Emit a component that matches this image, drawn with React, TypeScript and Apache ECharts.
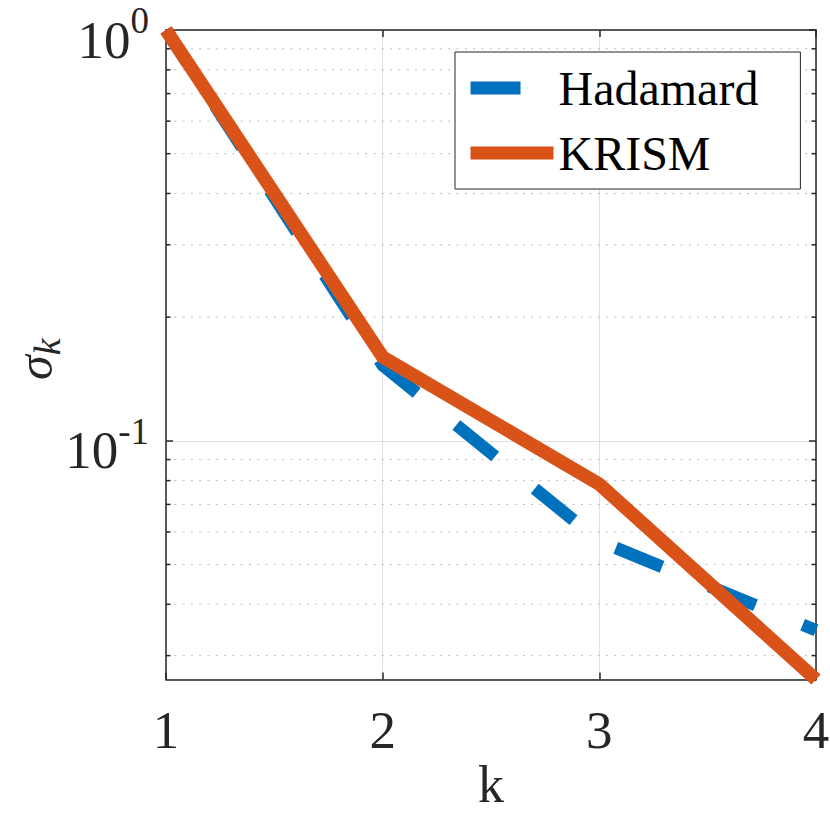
import React, { useEffect, useRef } from 'react';
import * as echarts from 'echarts';

// ---- data ----
const kValues = [1, 2, 3, 4];
const hadamardValues = [1.0, 0.1528, 0.057, 0.0346];
const krismValues = [1.0, 0.16, 0.0784, 0.02624];
const yRange = [0.02624, 1];
const xTickValues = [1, 2, 3, 4];
const minorGridValues = [0.03, 0.04, 0.05, 0.06, 0.07, 0.08, 0.09, 0.2, 0.3, 0.4, 0.5, 0.6, 0.7, 0.8, 0.9];
const seriesNames = ['Hadamard', 'KRISM'];
const xTitle = 'k';
const yTitleMain = 'σ';
const yTitleSub = 'k';

export default function App() {
  const ref = useRef<HTMLDivElement>(null);

  useEffect(() => {
    const chart = echarts.init(ref.current as HTMLDivElement, null, { renderer: 'svg' });
    const font = 'Liberation Serif';
    const axisColor = '#262626';
    const majorGrid = '#dfdfdf';
    const minorGrid = '#bcbcbc';
    const blue = '#0072BD';
    const orange = '#D95319';

    const logLabel = (v: number) => {
      const l = Math.log10(v);
      const e = Math.round(l);
      if (Math.abs(l - e) > 1e-6) return '';
      return '{b|10}{s|' + e + '}';
    };

    const axisLineStyle = { color: axisColor, width: 1.5 };

    const option: any = {
      animation: false,
      backgroundColor: '#ffffff',
      textStyle: { fontFamily: font },
      grid: { left: 166, top: 30, right: 14, bottom: 137.5, containLabel: false, outerBoundsMode: 'none' },
      legend: {
        show: true,
        orient: 'vertical',
        left: 455,
        top: 52,
        padding: [12, 42, 12, 9],
        itemGap: 17,
        itemWidth: 83,
        itemHeight: 14,
        backgroundColor: '#ffffff',
        borderColor: axisColor,
        borderWidth: 1,
        borderRadius: 0,
        textStyle: { fontSize: 48, fontFamily: font, color: '#000000', lineHeight: 48 },
        itemStyle: { color: 'rgba(0,0,0,0)', borderColor: 'rgba(0,0,0,0)', borderWidth: 0 },
        lineStyle: { width: 13 },
        data: [
          { name: seriesNames[0], lineStyle: { width: 13, dashOffset: 0 } },
          { name: seriesNames[1], lineStyle: { width: 13 } },
        ],
      },
      xAxis: [
        {
          type: 'value',
          min: xTickValues[0],
          max: xTickValues[xTickValues.length - 1],
          interval: 1,
          position: 'bottom',
          axisLine: { show: true, onZero: false, lineStyle: axisLineStyle },
          axisTick: { show: true, inside: true, length: 7, lineStyle: axisLineStyle },
          axisLabel: { margin: 24, fontSize: 53, lineHeight: 53, fontFamily: font, color: axisColor },
          splitLine: { show: true, lineStyle: { color: majorGrid, width: 1 } },
          name: xTitle,
          nameLocation: 'middle',
          nameGap: 84.5,
          nameMoveOverlap: false,
          nameTextStyle: { fontSize: 52, lineHeight: 40, fontFamily: font, color: axisColor },
        },
        {
          type: 'value',
          min: xTickValues[0],
          max: xTickValues[xTickValues.length - 1],
          interval: 1,
          position: 'top',
          axisLine: { show: true, onZero: false, lineStyle: axisLineStyle },
          axisTick: { show: true, inside: true, length: 7, lineStyle: axisLineStyle },
          axisLabel: { show: false },
          splitLine: { show: false },
        },
      ],
      yAxis: [
        {
          type: 'log',
          logBase: 10,
          min: yRange[0],
          max: yRange[1],
          position: 'left',
          axisLine: { show: true, onZero: false, lineStyle: axisLineStyle },
          axisTick: { show: true, inside: true, length: 7, lineStyle: axisLineStyle },
          axisLabel: {
            margin: 17,
            showMaxLabel: true,
            showMinLabel: false,
            formatter: logLabel,
            color: axisColor,
            rich: {
              b: { fontSize: 53, lineHeight: 28, padding: [19, 0, 0, 0], fontFamily: font, color: axisColor },
              s: { fontSize: 37, lineHeight: 28, padding: [0, 0, 19, 0], fontFamily: font, color: axisColor },
            },
          },
          splitLine: { show: true, lineStyle: { color: majorGrid, width: 1 } },
          name: '{s|' + yTitleMain + '}{k|' + yTitleSub + '}',
          nameLocation: 'middle',
          nameRotate: 90,
          nameGap: 117,
          nameMoveOverlap: false,
          nameTextStyle: {
            rich: {
              s: { fontSize: 50, fontStyle: 'italic', lineHeight: 16, padding: [0, 0, 12, 0], fontFamily: font, color: axisColor },
              k: { fontSize: 38, fontStyle: 'italic', lineHeight: 16, padding: [12, 9, 0, 0], fontFamily: font, color: axisColor },
            },
          },
        },
        {
          type: 'log',
          logBase: 10,
          min: yRange[0],
          max: yRange[1],
          position: 'right',
          axisLine: { show: true, onZero: false, lineStyle: axisLineStyle },
          axisTick: { show: true, inside: true, length: 7, lineStyle: axisLineStyle },
          axisLabel: { show: false },
          splitLine: { show: false },
        },
      ],
      series: [
        {
          type: 'custom',
          name: 'minor',
          xAxisIndex: 0,
          yAxisIndex: 0,
          silent: true,
          z: 1,
          clip: false,
          data: minorGridValues.map((v) => [xTickValues[0], v]),
          renderItem: (params: any, api: any) => {
            const v = api.value(1);
            const p1 = api.coord([xTickValues[0], v]);
            const p2 = api.coord([xTickValues[xTickValues.length - 1], v]);
            return {
              type: 'group',
              children: [
                {
                  type: 'line',
                  shape: { x1: p1[0], y1: p1[1], x2: p2[0], y2: p2[1] },
                  style: { stroke: minorGrid, lineWidth: 1, lineDash: [2, 6.3] },
                },
                {
                  type: 'line',
                  shape: { x1: p1[0], y1: p1[1], x2: p1[0] + 4.5, y2: p1[1] },
                  style: { stroke: axisColor, lineWidth: 1.5 },
                },
                {
                  type: 'line',
                  shape: { x1: p2[0], y1: p2[1], x2: p2[0] - 4.5, y2: p2[1] },
                  style: { stroke: axisColor, lineWidth: 1.5 },
                },
              ],
            };
          },
        },
        {
          type: 'line',
          name: seriesNames[0],
          data: kValues.map((k, i) => [k, hadamardValues[i]]),
          symbol: 'none',
          clip: false,
          z: 3,
          itemStyle: { color: blue },
          lineStyle: { color: blue, width: 12.5, type: [50, 51], dashOffset: 11, join: 'miter', cap: 'butt' },
        },
        {
          type: 'line',
          name: seriesNames[1],
          data: kValues.map((k, i) => [k, krismValues[i]]),
          symbol: 'none',
          clip: false,
          z: 4,
          itemStyle: { color: orange },
          lineStyle: { color: orange, width: 13.5, join: 'miter', cap: 'butt' },
        },
      ],
    };

    chart.setOption(option);
    return () => chart.dispose();
  }, []);

  return (
    <div
      ref={ref}
      style={{ position: 'absolute', left: 0, top: 0, width: 830, height: 817 }}
    />
  );
}
